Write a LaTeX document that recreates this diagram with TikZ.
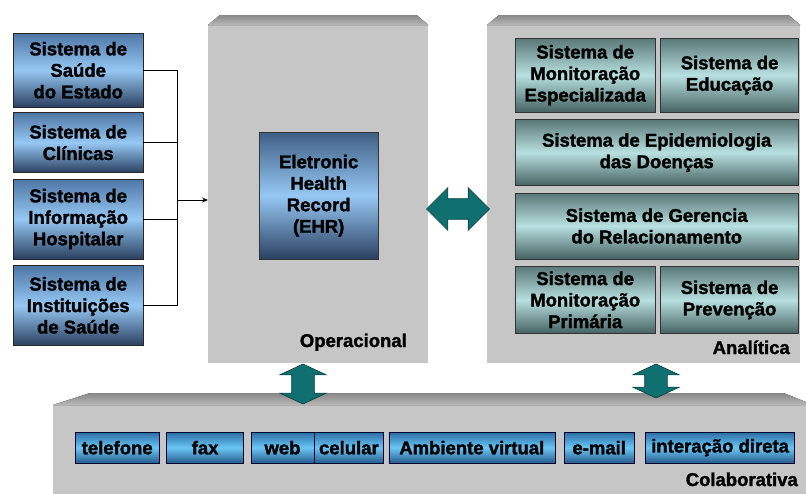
\documentclass[tikz,border=0pt]{standalone}
\usepackage{fontspec}
\setmainfont{Liberation Sans}[BoldFeatures={FakeBold=1.6}]
\usetikzlibrary{positioning,arrows.meta,shapes.arrows}

\definecolor{panelgray}{RGB}{198,198,198}
\definecolor{bevelgray}{RGB}{160,160,160}
\definecolor{bluetop}{RGB}{78,118,165}
\definecolor{bluemid}{RGB}{150,200,244}
\definecolor{bluebot}{RGB}{42,64,95}
\definecolor{tealtop}{RGB}{90,120,120}
\definecolor{tealmid}{RGB}{184,224,224}
\definecolor{tealbot}{RGB}{70,98,98}
\definecolor{chiptop}{RGB}{46,110,165}
\definecolor{chipmid}{RGB}{104,198,245}
\definecolor{chipbot}{RGB}{40,90,140}
\definecolor{arrowteal}{RGB}{16,112,112}
\definecolor{arrowedge}{RGB}{12,62,62}

\begin{document}
\begin{tikzpicture}[x=1pt, y=-1pt,
  font=\fontsize{18.5}{21.5}\selectfont\bfseries,
  panel/.style={fill=panelgray, inner sep=0pt, anchor=north west},
  bevel/.style={top color=bevelgray!85!black, bottom color=bevelgray!75!white},
  src/.style={draw=black!85, top color=bluetop, bottom color=bluebot, middle color=bluemid,
    align=center, inner sep=0pt, minimum width=130pt},
  ehrbox/.style={draw=black!80, top color=bluetop!80!black, bottom color=bluebot, middle color=bluemid,
    align=center, inner sep=0pt, anchor=north west},
  anbox/.style={draw=black!80, top color=tealtop, bottom color=tealbot, middle color=tealmid,
    align=center, inner sep=0pt},
  chip/.style={draw=black!80!blue, top color=chiptop, bottom color=chipbot, middle color=chipmid,
    inner sep=0pt, minimum height=31pt},
  tag/.style={inner sep=0pt, anchor=base east},
  wire/.style={draw=black, line width=0.9pt},
  dblarr/.style={double arrow, fill=arrowteal, draw=arrowedge, line width=0.6pt,
    inner xsep=0pt, inner ysep=10pt, double arrow head extend=10pt},
]
\useasboundingbox (0,0) rectangle (806,493);
\clip (0,0) rectangle (806,493);

%% ============ panels ============
\node[panel, minimum width=220pt, minimum height=338pt] (ops) at (208,25) {};
\node[panel, minimum width=313pt, minimum height=338pt] (ana) at (487,25) {};
\node[panel, minimum width=760pt, minimum height=95pt] (col) at (53,405) {};
\fill[bevel] (ops.north west) -- ([xshift=12pt,yshift=10pt]ops.north west)
  -- ([xshift=-12pt,yshift=10pt]ops.north east) -- (ops.north east) -- cycle;
\fill[bevel] (ana.north west) -- ([xshift=12pt,yshift=10pt]ana.north west)
  -- ([xshift=-12pt,yshift=10pt]ana.north east) -- (ana.north east) -- cycle;
\fill[bevel] (col.north west) -- ([xshift=37pt,yshift=12pt]col.north west)
  -- ([xshift=-30pt,yshift=12pt]col.north east) -- (col.north east) -- cycle;

%% ============ sources (left) ============
\node[src, minimum height=74pt, anchor=north west] (s1) at (13,33) {Sistema de\\Saúde\\do Estado};
\node[src, minimum height=60pt, below=5pt of s1] (s2) {Sistema de\\Clínicas};
\node[src, minimum height=80pt, below=6pt of s2] (s3) {Sistema de\\Informação\\Hospitalar};
\node[src, minimum height=80pt, below=6pt of s3] (s4) {Sistema de\\Instituições\\de Saúde};

%% ============ operacional ============
\node[ehrbox, minimum width=119pt, minimum height=127pt] (ehr) at (259,132)
  {Eletronic\\Health\\Record\\(EHR)};
\node[tag] (opslbl) at (407,347) {Operacional};

%% ============ analitica ============
\node[anbox, minimum width=140pt, minimum height=74pt, anchor=north west] (a1) at (515,38)
  {Sistema de\\Monitoração\\Especializada};
\node[anbox, minimum width=138pt, minimum height=74pt, right=5pt of a1] (a2) {Sistema de\\Educação};
\node[anbox, minimum width=283pt, minimum height=66pt, below=7pt of a1.south west, anchor=north west] (a3)
  {Sistema de Epidemiologia\\das Doenças};
\node[anbox, minimum width=283pt, minimum height=66pt, below=7pt of a3.south west, anchor=north west] (a4)
  {Sistema de Gerencia\\do Relacionamento};
\node[anbox, minimum width=140pt, minimum height=67pt, below=7pt of a4.south west, anchor=north west] (a5)
  {Sistema de\\Monitoração\\Primária};
\node[anbox, minimum width=138pt, minimum height=67pt, right=5pt of a5] (a6) {Sistema de\\Prevenção};
\node[tag] (analbl) at (790,354) {Analítica};

%% ============ colaborativa ============
\node[chip, minimum width=84pt, anchor=north west] (c1) at (75,432) {telefone};
\node[chip, minimum width=77pt, right=7pt of c1] (c2) {fax};
\node[chip, minimum width=63pt, right=7pt of c2] (c3) {web};
\node[chip, minimum width=69pt, right=0pt of c3] (c4) {celular};
\node[chip, minimum width=166pt, right=5pt of c4] (c5) {Ambiente virtual};
\node[chip, minimum width=70pt, right=9pt of c5] (c6) {e-mail};
\node[chip, minimum width=149pt, right=11pt of c6] (c7) {interação direta};
\node[tag] (collbl) at (798,486) {Colaborativa};

%% ============ flows ============
\coordinate (bus) at (177,200);
\foreach \s in {s1,s2,s3,s4}
  \draw[wire] (\s.east) -| (bus);
\draw[wire, -{Stealth[length=6pt,width=5pt]}] (bus) -- (bus -| ops.west);
% block arrows between layers
\node[dblarr, minimum height=63pt, double arrow head extend=11pt] (opsana) at (458,209) {};
\node[dblarr, minimum height=40pt, inner ysep=11pt, double arrow head extend=12pt,
  double arrow tip angle=130, rotate=90] (opscol) at (303,384) {};
\node[dblarr, minimum height=34pt, inner ysep=11pt, double arrow head extend=12pt,
  double arrow tip angle=130, rotate=90] (anacol) at (656,381) {};

\end{tikzpicture}
\end{document}
